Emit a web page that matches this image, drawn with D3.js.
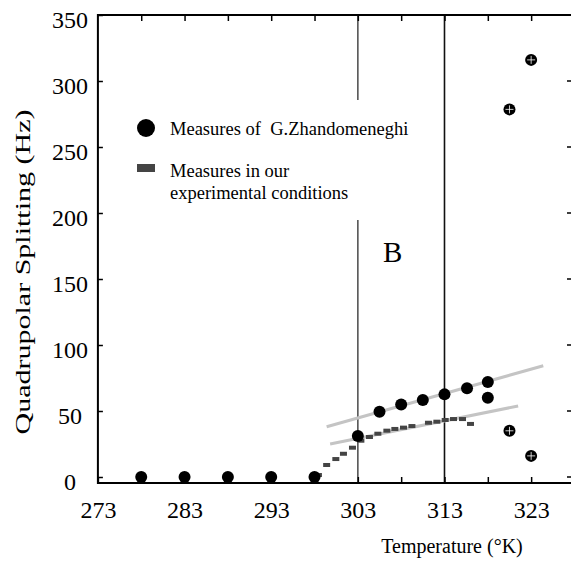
<!DOCTYPE html>
<html>
<head>
<meta charset="utf-8">
<script src="https://cdn.jsdelivr.net/npm/d3@7"></script>
<style>
  body { margin: 0; background: #fff; }
  text { font-family: "Liberation Serif", "Times New Roman", serif; fill: #000; }
</style>
</head>
<body>
<script>
// mesures de G.Zhandomeneghi (temperature en K, splitting en Hz)
const zhandoT = [278, 283, 288, 293, 298, 303, 305.5, 308, 310.5, 313, 315.6, 318, 318, 320.5, 323, 320.5, 323];
const zhandoV = [0, 0, 0, 0, 0, 31, 49.5, 55, 58.3, 62.6, 67.2, 72, 60, 35, 16, 278.5, 316];
// points dessinés avec une petite croix blanche
const zhandoPlus = [false, false, false, false, false, false, false, false, false, false, false, false, false, true, true, true, true];

// nos mesures
const oursT = [298.45, 299.4, 300.46, 301.34, 302.38, 303.35, 304.34, 305.31, 306.35, 307.27, 308.27, 309.24, 311.15, 312.12, 313.08, 314.04, 315.08, 316.0];
const oursV = [1.5, 9.1, 13.6, 17.6, 22.2, 27.5, 30.3, 32.8, 35.1, 36.4, 37.4, 38.6, 41.1, 41.9, 43.2, 43.9, 43.9, 40.2];

// droites de tendance (gris clair)
const trendUpper = [[299.4, 38.1], [324.4, 84.3]];
const trendLower = [[299.8, 25], [321.5, 53.8]];

const xTicks = [273, 278, 283, 288, 293, 298, 303, 308, 313, 318, 323];
const xLabels = [273, 283, 293, 303, 313, 323];
const yTicks = [0, 50, 100, 150, 200, 250, 300, 350];

const W = 571, H = 565;
const mLeft = 97.9, mRight = 571, mTop = 15, mBottom = 483;

const svg = d3.select("body").append("svg")
    .attr("width", W)
    .attr("height", H);

const x = d3.scaleLinear().domain([273, 327.6]).range([mLeft, mRight]);
const y = d3.scaleLinear().domain([0, 350]).range([477, mTop]);

// lignes verticales a 303 et 313
svg.append("line")
   .attr("x1", x(303)).attr("x2", x(303))
   .attr("y1", mTop).attr("y2", 100)
   .attr("stroke", "#555").attr("stroke-width", 1.6);
svg.append("line")
   .attr("x1", x(303)).attr("x2", x(303))
   .attr("y1", 220).attr("y2", mBottom)
   .attr("stroke", "#555").attr("stroke-width", 1.6);
svg.append("line")
   .attr("x1", x(313)).attr("x2", x(313))
   .attr("y1", mTop).attr("y2", mBottom)
   .attr("stroke", "#111").attr("stroke-width", 1.6);

// tendances
const line = d3.line().x(d => x(d[0])).y(d => y(d[1]));
[trendUpper, trendLower].forEach(t => {
    svg.append("path")
       .attr("d", line(t))
       .attr("fill", "none")
       .attr("stroke", "#c4c4c4")
       .attr("stroke-width", 3);
});

// nos mesures (petits rectangles)
svg.selectAll("rect.ours")
   .data(oursT)
   .join("rect")
   .attr("class", "ours")
   .attr("x", d => x(d) - 3.5)
   .attr("y", (d, i) => y(oursV[i]) - 2)
   .attr("width", 7)
   .attr("height", 4)
   .attr("fill", "#444");

// mesures Zhandomeneghi
svg.selectAll("circle.zh")
   .data(zhandoT)
   .join("circle")
   .attr("class", "zh")
   .attr("cx", d => x(d))
   .attr("cy", (d, i) => y(zhandoV[i]))
   .attr("r", 6)
   .attr("fill", "#000");

zhandoT.forEach((t, i) => {
    if (!zhandoPlus[i]) return;
    const cx = x(t), cy = y(zhandoV[i]);
    svg.append("path")
       .attr("d", `M${cx - 4},${cy}H${cx + 4}M${cx},${cy - 4}V${cy + 4}`)
       .attr("stroke", "#fff")
       .attr("stroke-width", 0.8);
});

// cadre
svg.append("path")
   .attr("d", `M${mRight},${mTop}H${mLeft}V${mBottom}H${mRight}`)
   .attr("fill", "none")
   .attr("stroke", "#000")
   .attr("stroke-width", 2);

// axe du bas
const gx = svg.append("g")
   .attr("transform", `translate(0,${mBottom})`)
   .call(d3.axisBottom(x).tickValues(xTicks).tickSizeInner(-6).tickSizeOuter(0)
         .tickFormat(d => xLabels.includes(d) ? d : ""));
gx.select(".domain").remove();
gx.selectAll(".tick line").attr("stroke", "#000").attr("stroke-width", 1.5);
gx.selectAll(".tick text")
  .attr("y", 35).attr("dy", 0)
  .style("font-size", "24px")
  .style("font-family", "Liberation Serif");

// axe du haut
const gt = svg.append("g")
   .attr("transform", `translate(0,${mTop})`)
   .call(d3.axisTop(x).tickValues(xTicks.filter(d => d > 273)).tickSizeInner(-6).tickSizeOuter(0).tickFormat(""));
gt.select(".domain").remove();
gt.selectAll(".tick line").attr("stroke", "#000").attr("stroke-width", 1.5);

// axe de gauche
const gy = svg.append("g")
   .attr("transform", `translate(${mLeft},0)`)
   .call(d3.axisLeft(y).tickValues(yTicks).tickSizeInner(-5).tickSizeOuter(0));
gy.select(".domain").remove();
gy.selectAll(".tick line").attr("stroke", "#000").attr("stroke-width", 1.5);
gy.selectAll(".tick text")
  .attr("x", -28).attr("dy", 12)
  .attr("text-anchor", "middle")
  .style("font-size", "24px")
  .style("font-family", "Liberation Serif");

// petites graduations a droite
svg.selectAll("line.rt")
   .data(yTicks)
   .join("line")
   .attr("class", "rt")
   .attr("x1", 567).attr("x2", 571)
   .attr("y1", d => y(d)).attr("y2", d => y(d))
   .attr("stroke", "#000").attr("stroke-width", 1.5);

// titres des axes
svg.append("text")
   .attr("transform", "translate(30,272) rotate(-90)")
   .attr("text-anchor", "middle")
   .attr("textLength", 325)
   .attr("lengthAdjust", "spacingAndGlyphs")
   .style("font-size", "22px")
   .text("Quadrupolar Splitting (Hz)");

svg.append("text")
   .attr("x", 452).attr("y", 553)
   .attr("text-anchor", "middle")
   .style("font-size", "20px")
   .text("Temperature (°K)");

// lettre B
svg.append("text")
   .attr("x", 383).attr("y", 262)
   .style("font-size", "29px")
   .text("B");

// legende
svg.append("circle").attr("cx", 146).attr("cy", 128).attr("r", 9).attr("fill", "#000");
svg.append("text").attr("x", 170).attr("y", 135)
   .style("font-size", "18.5px").style("white-space", "pre")
   .text("Measures of  G.Zhandomeneghi");
svg.append("rect").attr("x", 137).attr("y", 164).attr("width", 18).attr("height", 8).attr("fill", "#444");
svg.append("text").attr("x", 170).attr("y", 177)
   .style("font-size", "18.5px").text("Measures in our");
svg.append("text").attr("x", 170).attr("y", 199)
   .style("font-size", "18.5px").text("experimental conditions");
</script>
</body>
</html>
